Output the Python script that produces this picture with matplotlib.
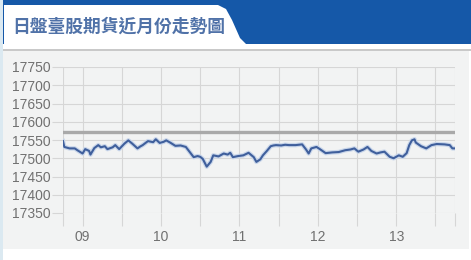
import matplotlib
matplotlib.use("Agg")
import matplotlib.pyplot as plt
from matplotlib.patches import Polygon, Rectangle

# ---- data ----
title = "日盤臺股期貨近月份走勢圖"
minutes = [0, 1, 5, 9, 11, 15, 17, 20, 21, 24, 27, 29, 32, 34, 38, 40, 43, 47, 50, 53, 57, 59,
           61, 65, 69, 71, 74, 77, 79, 82, 86, 90, 94, 97, 100, 103, 105, 107, 110, 113, 115,
           119, 123, 126, 128, 130, 134, 138, 142, 146, 148, 151, 153, 156, 159, 161, 163,
           167, 170, 173, 178, 183, 186, 188, 190, 194, 197, 201, 206, 211, 216, 220, 223,
           226, 230, 233, 236, 240, 243, 246, 250, 253, 257, 260, 263, 265, 267, 269, 270,
           274, 278, 282, 286, 292, 296, 298, 300]
prices = [17547, 17531, 17527, 17527, 17522, 17513, 17525, 17520, 17510, 17528, 17536, 17530,
          17533, 17525, 17530, 17536, 17525, 17540, 17549, 17540, 17527, 17532,
          17536, 17547, 17544, 17552, 17542, 17545, 17549, 17543, 17534, 17535, 17531, 17517,
          17503, 17506, 17504, 17498, 17477, 17490, 17508,
          17505, 17513, 17510, 17515, 17503, 17506, 17508, 17515, 17503, 17490, 17497, 17508,
          17520, 17533, 17535, 17536,
          17535, 17537, 17536, 17536, 17538, 17524, 17513, 17527, 17531, 17524, 17514, 17516,
          17517, 17522, 17524, 17527,
          17518, 17524, 17531, 17520, 17513, 17516, 17518, 17504, 17500, 17508, 17504, 17514,
          17536, 17549, 17552, 17543,
          17533, 17527, 17536, 17539, 17538, 17536, 17527, 17527]
ref_price = 17572
yticks = [17350, 17400, 17450, 17500, 17550, 17600, 17650, 17700, 17750]
xlabel_pos = [15, 75, 135, 195, 255]
xlabels = ["09", "10", "11", "12", "13"]
xminor_pos = [0, 45, 105, 165, 225, 285, 300]

W, H = 471, 260
fig = plt.figure(figsize=(W / 100, H / 100), dpi=100)
fig.patch.set_facecolor("white")

# background / header drawn in pixel coordinates
bg = fig.add_axes([0, 0, 1, 1], zorder=0)
bg.set_xlim(0, W)
bg.set_ylim(H, 0)
bg.axis("off")
bg.add_patch(Rectangle((0, 0), W, 44, color="#1558a8", lw=0))
bg.add_patch(Rectangle((0, 44), W, 6, color="white", lw=0))
tab = Polygon([(4, 5), (218, 5), (226, 9), (232, 20), (240, 38), (246, 44), (4, 44)],
              closed=True, color="white", lw=0)
bg.add_patch(tab)
bg.add_patch(Rectangle((0, 0), 3, H, color="#dbe9f1", lw=0))
bg.add_patch(Rectangle((3, 49), W - 3, 1.5, color="#c9c9c9", lw=0))
bg.add_patch(Rectangle((3, 50.5), W - 5, 198, color="#f2f3f3", lw=0))
bg.text(12, 27, title, fontsize=12.8, color="#5072a8", fontweight="bold",
        family=["Noto Sans CJK TC", "DejaVu Sans"], va="center", ha="left")

# main chart
ax = fig.add_axes([63 / W, 1 - 213 / H, (455 - 63) / W, (213 - 67) / H], zorder=1)
ax.set_facecolor("none")
ax.set_xlim(0, 300)
ax.set_ylim(17350, 17750)
for s in ax.spines.values():
    s.set_visible(False)

grid_c = "#d6d6d6"
ax.set_yticks(yticks)
ax.set_yticklabels([str(v) for v in yticks])
ax.tick_params(axis="y", length=8, width=0.8, color=grid_c, pad=1,
               labelsize=10, labelcolor="#707070")
ax.set_xticks(xlabel_pos)
ax.set_xticklabels(xlabels)
ax.set_xticks(xminor_pos, minor=True)
ax.tick_params(axis="x", which="both", length=9, width=0.8, color=grid_c, pad=3,
               labelsize=10, labelcolor="#707070")
for t in ax.get_xticklabels() + ax.get_yticklabels():
    t.set_family("Liberation Sans")

for v in yticks:
    ax.axhline(v, color=grid_c, lw=0.8, zorder=1)
for v in xlabel_pos + xminor_pos:
    ax.axvline(v, color=grid_c, lw=0.8, zorder=1)

ax.axhline(ref_price, color="#a9a9a9", lw=2.4, zorder=2)
ax.plot(minutes, prices, color="#c9d6ea", lw=3.2, zorder=3, solid_joinstyle="round")
ax.plot(minutes, prices, color="#3f5f9c", lw=1.5, zorder=4, solid_joinstyle="round")

fig.savefig("out.png", dpi=100, facecolor=fig.get_facecolor())
